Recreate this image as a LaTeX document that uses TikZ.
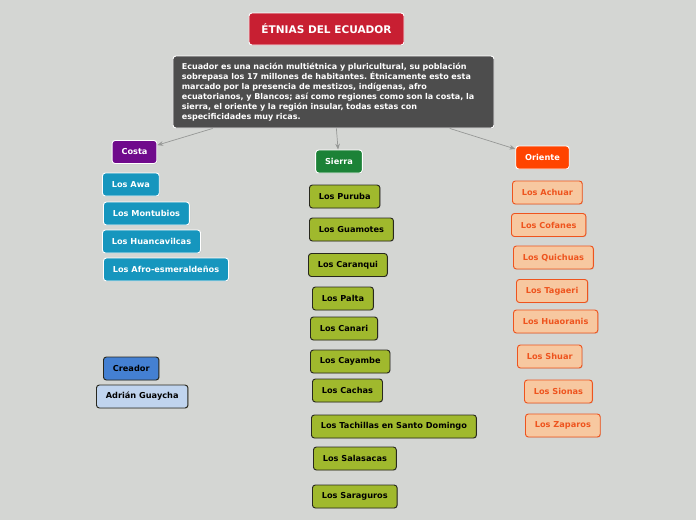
\documentclass[tikz,border=0pt]{standalone}
\usepackage{fontspec}
\setmainfont{DejaVu Sans}
\usetikzlibrary{arrows.meta,shadows}
\frenchspacing
\definecolor{etniaBack}{RGB}{212,214,211}
\definecolor{etniaRed}{RGB}{200,31,50}
\definecolor{etniaGray}{RGB}{77,77,77}
\definecolor{etniaPurple}{RGB}{112,10,140}
\definecolor{etniaGreen}{RGB}{28,130,55}
\definecolor{etniaOrange}{RGB}{255,68,0}
\definecolor{etniaTeal}{RGB}{22,150,190}
\definecolor{etniaOlive}{RGB}{160,185,45}
\definecolor{etniaInk}{RGB}{40,40,30}
\definecolor{etniaPeach}{RGB}{247,200,160}
\definecolor{etniaRust}{RGB}{238,84,30}
\definecolor{etniaBlue}{RGB}{68,128,210}
\definecolor{etniaSky}{RGB}{192,212,238}
\definecolor{etniaLink}{RGB}{150,152,150}

\begin{document}
\begin{tikzpicture}[x=0.03cm, y=-0.03cm,
    box/.style={rounded corners=2.5pt, anchor=west, minimum height=0.69cm,
      inner xsep=8pt, inner ysep=2pt, line width=0.8pt,
      font=\fontsize{7}{8.5}\selectfont\bfseries,
      drop shadow={shadow xshift=0.6pt, shadow yshift=-0.6pt, opacity=0.25}},
    region/.style={box, anchor=center, draw=white, text=white},
    costabox/.style={box, draw=white, fill=etniaTeal, text=white},
    sierrabox/.style={box, draw=etniaInk, fill=etniaOlive, text=black},
    orientebox/.style={box, draw=etniaRust, fill=etniaPeach, text=etniaRust},
    link/.style={-{Stealth[length=5pt,width=4pt]}, color=etniaLink, line width=0.6pt}
  ]
    \fill[etniaBack] (0,0) rectangle (696,520);
    \useasboundingbox (0,0) rectangle (696,520);

    \node[region, fill=etniaRed, minimum width=4.65cm, minimum height=0.96cm,
      font=\fontsize{9}{11}\selectfont\bfseries] (title) at (326.5,29) {ÉTNIAS DEL ECUADOR};
    \node[region, fill=etniaGray, minimum width=9.63cm, minimum height=2.16cm,
      text width=9.1cm, align=left, inner xsep=0pt,
      font=\fontsize{6.85}{8.5}\selectfont\bfseries] (desc) at (333.5,92)
      {Ecuador es una nación multiétnica y pluricultural, su población\\
       sobrepasa los 17 millones de habitantes. Étnicamente esto esta\\
       marcado por la presencia de mestizos, indígenas, afro\\
       ecuatorianos, y Blancos; así como regiones como son la costa, la\\
       sierra, el oriente y la región insular, todas estas con\\
       especificidades muy ricas.};

    \node[region, fill=etniaPurple] (costa) at (134.5,152) {Costa};
    \node[region, fill=etniaGreen] (sierra) at (339,161.5) {Sierra};
    \node[region, fill=etniaOrange] (oriente) at (542.5,157.5) {Oriente};

    \node[costabox] (awa) at (102,184.5) {Los Awa};
    \node[costabox] (montubios) at (103,213.5) {Los Montubios};
    \node[costabox] (huancavilcas) at (102,241.5) {Los Huancavilcas};
    \node[costabox] (afro) at (103,269.5) {Los Afro-esmeraldeños};

    \node[sierrabox] (puruba) at (309,196.5) {Los Puruba};
    \node[sierrabox] (guamotes) at (309,229.5) {Los Guamotes};
    \node[sierrabox] (caranqui) at (308,265) {Los Caranqui};
    \node[sierrabox] (palta) at (312,298.5) {Los Palta};
    \node[sierrabox] (canari) at (310,328.5) {Los Canari};
    \node[sierrabox] (cayambe) at (310,361.5) {Los Cayambe};
    \node[sierrabox] (cachas) at (312,390.5) {Los Cachas};
    \node[sierrabox] (tachillas) at (311,426.5) {Los Tachillas en Santo Domingo};
    \node[sierrabox] (salasacas) at (313,458.5) {Los Salasacas};
    \node[sierrabox] (saraguros) at (312,496.5) {Los Saraguros};

    \node[orientebox] (achuar) at (512,192.5) {Los Achuar};
    \node[orientebox] (cofanes) at (511,225) {Los Cofanes};
    \node[orientebox] (quichuas) at (513,257.5) {Los Quichuas};
    \node[orientebox] (tagaeri) at (516,291) {Los Tagaeri};
    \node[orientebox] (huaoranis) at (513,321.5) {Los Huaoranis};
    \node[orientebox] (shuar) at (517,356.5) {Los Shuar};
    \node[orientebox] (sionas) at (524,391.5) {Los Sionas};
    \node[orientebox] (zaparos) at (525,425.5) {Los Zaparos};

    \node[box, draw=etniaInk, fill=etniaBlue] (creador) at (103,368.5) {Creador};
    \node[box, draw=etniaInk, fill=etniaSky] (autor) at (96,396.5) {Adrián Guaycha};

    \draw[link] (desc) -- (costa);
    \draw[link] (desc) -- (sierra);
    \draw[link] (desc) -- (oriente);
  \end{tikzpicture}
\end{document}
